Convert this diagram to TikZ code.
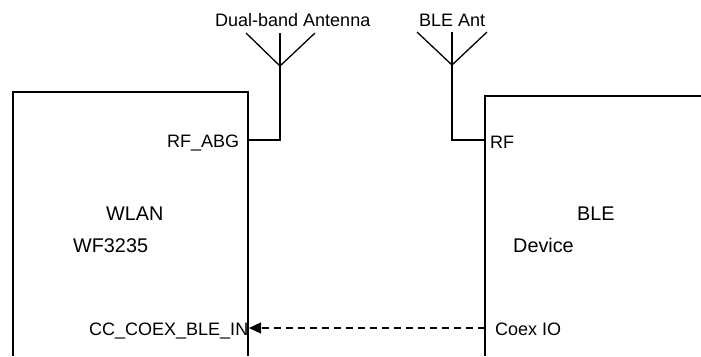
\documentclass[tikz,border=0pt]{standalone}
\usepackage{fontspec}
\setmainfont{Liberation Sans}
\usetikzlibrary{arrows.meta}
\begin{document}
\begin{tikzpicture}[x=1pt,y=-1pt,
  lbl/.style={anchor=base west,inner sep=0pt,font=\fontsize{18}{20}\selectfont},
  big/.style={anchor=base west,inner sep=0pt,font=\fontsize{19.8}{22}\selectfont},
  boxline/.style={line width=2.5pt},
  wire/.style={line width=1.3pt},
  coex/.style={line width=1.1pt,dash pattern=on 7pt off 5pt,-{Triangle[length=12pt,width=11pt]}}]
\useasboundingbox (0,0) rectangle (701,356);
% boxes
\draw[boxline] (13,356) -- (13,92) -- (248,92) -- (248,356);
\draw[boxline] (485,356) -- (485,96) -- (701,96);
% pins
\coordinate (rfabg) at (248,140);
\coordinate (rfble) at (485,140);
\coordinate (coexin) at (249,328);
\coordinate (coexio) at (485,328);
% antennas
\coordinate (a1) at (280,66);
\coordinate (a1l) at (246,33);
\coordinate (a1m) at (280,33);
\coordinate (a1r) at (315,33);
\coordinate (a2) at (452,65);
\coordinate (a2l) at (417,32);
\coordinate (a2m) at (452,32);
\coordinate (a2r) at (487,32);
\draw[wire] (a1l) -- (a1) -- (a1r);
\draw[wire] (a1m) -- (a1) |- (rfabg);
\draw[wire] (a2l) -- (a2) -- (a2r);
\draw[wire] (a2m) -- (a2) |- (rfble);
% coex signal
\draw[coex] (coexio) -- (coexin);
% texts
\node[lbl] (tdual) at (215,26) {Dual-band Antenna};
\node[lbl] (tble) at (419,26) {BLE Ant};
\node[lbl] (trfabg) at (167,147) {RF\_ABG};
\node[lbl] (trf) at (490,148) {RF};
\node[big] (twlan) at (106,220) {WLAN};
\node[big] (twf) at (73,252) {WF3235};
\node[big] (tbleb) at (577,220) {BLE};
\node[big] (tdev) at (513,252) {Device};
\node[lbl] (tcc) at (89,335) {CC\_COEX\_BLE\_IN};
\node[lbl] (tcoex) at (495,335) {Coex IO};
\end{tikzpicture}
\end{document}
